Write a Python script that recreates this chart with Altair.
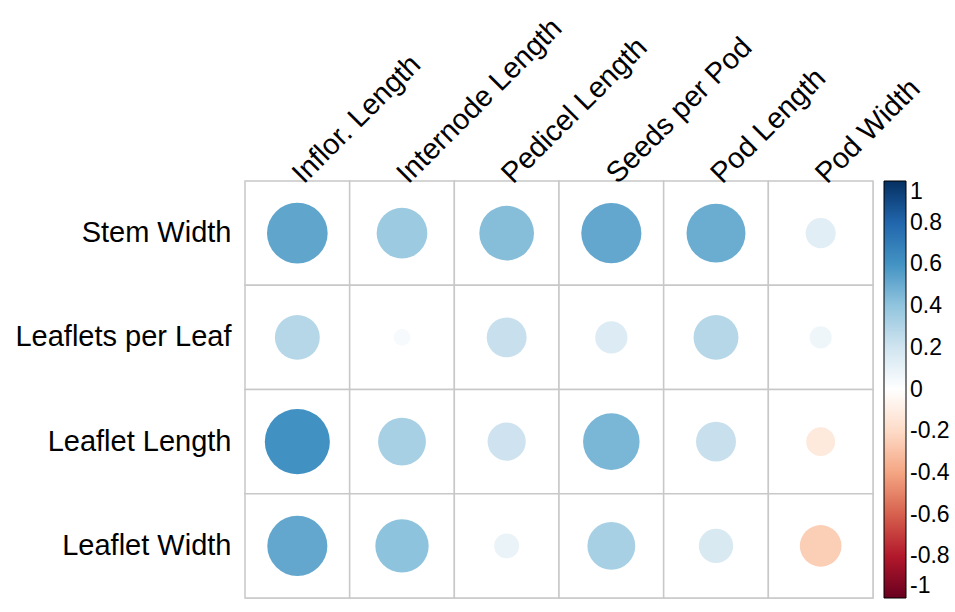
import altair as alt
import pandas as pd

# Correlation matrix: rows are leaf/stem traits, columns are inflorescence/pod traits
row_traits = ["Stem Width", "Leaflets per Leaf", "Leaflet Length", "Leaflet Width"]
col_traits = ["Inflor. Length", "Internode Length", "Pedicel Length",
              "Seeds per Pod", "Pod Length", "Pod Width"]

r_stem_width = [0.53, 0.37, 0.43, 0.52, 0.50, 0.13]
r_leaflets_per_leaf = [0.29, 0.04, 0.23, 0.15, 0.29, 0.07]
r_leaflet_length = [0.61, 0.33, 0.21, 0.46, 0.23, -0.12]
r_leaflet_width = [0.52, 0.41, 0.09, 0.33, 0.17, -0.25]

matrix = [r_stem_width, r_leaflets_per_leaf, r_leaflet_length, r_leaflet_width]
records = []
for trait, values in zip(row_traits, matrix):
    for col, r in zip(col_traits, values):
        records.append({"row": trait, "col": col, "r": r})
df = pd.DataFrame(records)

# Diverging red-blue palette with stops every 0.2
color_stops = [-1, -0.8, -0.6, -0.4, -0.2, 0, 0.2, 0.4, 0.6, 0.8, 1]
color_range = ["#67001F", "#B2182B", "#D6604D", "#F4A582", "#FDDBC7", "#FFFFFF",
               "#D1E5F0", "#92C5DE", "#4393C3", "#2166AC", "#053061"]

W, H = 628, 417
cell = (W / 6 + H / 4) / 2
max_area = 3.14159 / 4 * (0.9 * cell) ** 2  # circle area when |r| = 1

FONT = "Liberation Sans"

x_enc = alt.X("col:N", sort=col_traits, title=None,
              axis=alt.Axis(orient="top", labelAngle=315, labelAlign="left",
                            labelBaseline="middle", labelFontSize=29,
                            labelPadding=3, ticks=False, domain=False,
                            labelColor="black", labelFont=FONT, labelLimit=400))
y_enc = alt.Y("row:N", sort=row_traits, title=None,
              axis=alt.Axis(labelFontSize=29, labelPadding=14, ticks=False,
                            domain=False, labelColor="black", labelFont=FONT,
                            labelLimit=400))

base = alt.Chart(df).encode(x=x_enc, y=y_enc)

cells = base.mark_rect(fill="white", stroke="#c8c8c8", strokeWidth=1.5)

circles = base.mark_circle(opacity=1, strokeWidth=0).encode(
    size=alt.Size("absr:Q", scale=alt.Scale(domain=[0, 1], range=[0, max_area]),
                  legend=None),
    color=alt.Color("r:Q",
                    scale=alt.Scale(domain=color_stops, range=color_range,
                                    interpolate="rgb"),
                    legend=alt.Legend(
                        orient="none", legendX=W + 11, legendY=0,
                        direction="vertical", title=None,
                        gradientLength=H, gradientThickness=22,
                        gradientStrokeColor="black", gradientStrokeWidth=1,
                        values=color_stops, labelFontSize=23, labelFont=FONT,
                        labelColor="black", labelOffset=4,
                        labelOverlap=False,
                        labelExpr="toString(datum.value)")),
).transform_calculate(absr="abs(datum.r)")

chart = alt.layer(cells, circles).properties(
    width=W, height=H,
    autosize=alt.AutoSizeParams(type="none"),
    padding={"left": 245, "top": 181, "right": 955 - 245 - W, "bottom": 612 - 181 - H},
).configure_view(stroke=None).configure(background="white")

chart.save("out.html", embed_options={"renderer": "svg", "actions": False})
